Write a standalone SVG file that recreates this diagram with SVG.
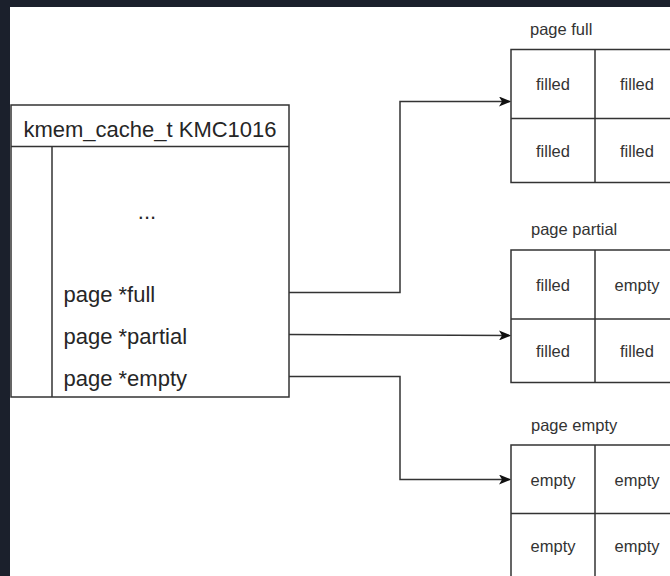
<svg xmlns="http://www.w3.org/2000/svg" width="670" height="576" viewBox="0 0 670 576">
  <defs>
    <style>
      .frame { fill: #ffffff; stroke: #333333; stroke-width: 1.5; }
      .rule { fill: none; stroke: #333333; stroke-width: 1.5; }
      .wire { fill: none; stroke: #333333; stroke-width: 1.5; }
      .big { font-family: "Liberation Sans", Arial, sans-serif; font-size: 22px; fill: #262626; }
      .small { font-family: "Liberation Sans", Arial, sans-serif; font-size: 16.5px; fill: #333333; }
      .mid { text-anchor: middle; }
    </style>
    <marker id="arrow" viewBox="0 0 12 10" refX="11" refY="5" markerWidth="12" markerHeight="10" markerUnits="userSpaceOnUse" orient="auto">
      <path d="M0,0 L12,5 L0,10 L3,5 Z" fill="#111111"/>
    </marker>
  </defs>

  <!-- page backdrop -->
  <rect x="0" y="0" width="670" height="576" fill="#1b202c"/>
  <rect x="10" y="7" width="660" height="569" fill="#ffffff"/>

  <!-- cache descriptor -->
  <g id="kmem-cache">
    <rect class="frame" x="11" y="105" width="278" height="292"/>
    <line class="rule" x1="11" y1="146.5" x2="289" y2="146.5"/>
    <line class="rule" x1="52" y1="146.5" x2="52" y2="397"/>
    <text class="big mid" x="150" y="137">kmem_cache_t KMC1016</text>
    <text class="big mid" x="147" y="219" fill="#555555">...</text>
    <text class="big" x="63.5" y="302">page *full</text>
    <text class="big" x="63.5" y="344">page *partial</text>
    <text class="big" x="63.5" y="386">page *empty</text>
  </g>

  <!-- full slab -->
  <g id="page-full">
    <text class="small" x="530" y="35">page full</text>
    <rect class="frame" x="511" y="49.5" width="168" height="133"/>
    <line class="rule" x1="511" y1="118.5" x2="679" y2="118.5"/>
    <line class="rule" x1="595" y1="49.5" x2="595" y2="182.5"/>
    <text class="small mid" x="553" y="90">filled</text>
    <text class="small mid" x="637" y="90">filled</text>
    <text class="small mid" x="553" y="157">filled</text>
    <text class="small mid" x="637" y="157">filled</text>
  </g>

  <!-- partial slab -->
  <g id="page-partial">
    <text class="small" x="531" y="235">page partial</text>
    <rect class="frame" x="511" y="250" width="168" height="132.5"/>
    <line class="rule" x1="511" y1="319" x2="679" y2="319"/>
    <line class="rule" x1="595" y1="250" x2="595" y2="382.5"/>
    <text class="small mid" x="553" y="291">filled</text>
    <text class="small mid" x="637" y="291">empty</text>
    <text class="small mid" x="553" y="357">filled</text>
    <text class="small mid" x="637" y="357">filled</text>
  </g>

  <!-- empty slab -->
  <g id="page-empty">
    <text class="small" x="531" y="431">page empty</text>
    <rect class="frame" x="511" y="445" width="168" height="133"/>
    <line class="rule" x1="511" y1="513.5" x2="679" y2="513.5"/>
    <line class="rule" x1="595" y1="445" x2="595" y2="578"/>
    <text class="small mid" x="553" y="486">empty</text>
    <text class="small mid" x="637" y="486">empty</text>
    <text class="small mid" x="553" y="552">empty</text>
    <text class="small mid" x="637" y="552">empty</text>
  </g>

  <!-- pointers from the descriptor to each slab -->
  <g id="connectors">
    <polyline class="wire" points="289,292.5 400,292.5 400,101.5 510,101.5" marker-end="url(#arrow)"/>
    <polyline class="wire" points="289,334.5 510,335.5" marker-end="url(#arrow)"/>
    <polyline class="wire" points="289,376.5 400,376.5 400,479.5 510,479.5" marker-end="url(#arrow)"/>
  </g>
</svg>
